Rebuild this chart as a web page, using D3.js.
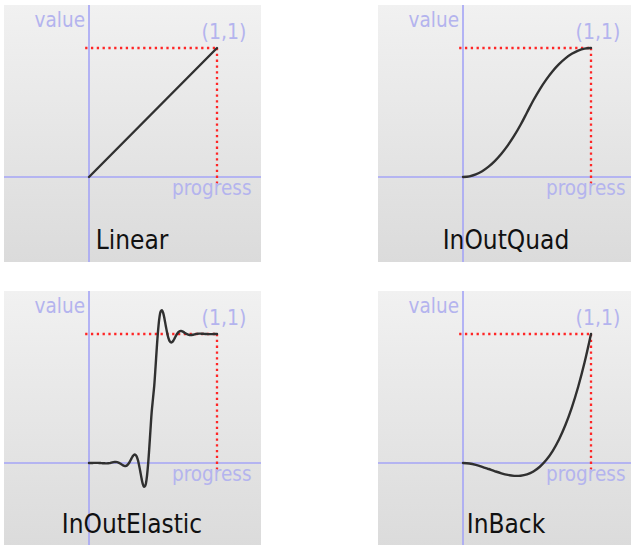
<!DOCTYPE html>
<html>
<head>
<meta charset="utf-8">
<script src="https://cdn.jsdelivr.net/npm/d3@7"></script>
<style>
  html, body { margin: 0; padding: 0; background: #ffffff; }
  svg { display: block; }
  text { font-family: "DejaVu Sans Condensed", "DejaVu Sans", sans-serif; font-stretch: condensed; }
</style>
</head>
<body>
<svg id="chart" width="631" height="545"></svg>
<script>
// ---- data ----
const curveNames = ["Linear", "InOutQuad", "InOutElastic", "InBack"];
const axisLabelX = "progress";
const axisLabelY = "value";
const endPointLabel = "(1,1)";

const linearProgress = [0, 1];
const linearValues   = [0, 1];

const quadProgress = [0, 0.05, 0.1, 0.15, 0.2, 0.25, 0.3, 0.35, 0.4, 0.45, 0.5,
                      0.55, 0.6, 0.65, 0.7, 0.75, 0.8, 0.85, 0.9, 0.95, 1];
const quadValues   = [0, 0.005, 0.02, 0.045, 0.08, 0.125, 0.18, 0.245, 0.32, 0.405, 0.5,
                      0.595, 0.68, 0.755, 0.82, 0.875, 0.92, 0.955, 0.98, 0.995, 1];

const elasticProgress = [0, 0.01, 0.02, 0.03, 0.04, 0.05, 0.06, 0.07, 0.08, 0.09,
  0.1, 0.11, 0.12, 0.13, 0.14, 0.15, 0.16, 0.17, 0.18, 0.19,
  0.2, 0.21, 0.22, 0.23, 0.24, 0.25, 0.26, 0.27, 0.28, 0.29,
  0.3, 0.31, 0.32, 0.33, 0.34, 0.35, 0.36, 0.37, 0.38, 0.39,
  0.4, 0.41, 0.42, 0.43, 0.44, 0.45, 0.46, 0.47, 0.48, 0.49,
  0.5, 0.51, 0.52, 0.53, 0.54, 0.55, 0.56, 0.57, 0.58, 0.59,
  0.6, 0.61, 0.62, 0.63, 0.64, 0.65, 0.66, 0.67, 0.68, 0.69,
  0.7, 0.71, 0.72, 0.73, 0.74, 0.75, 0.76, 0.77, 0.78, 0.79,
  0.8, 0.81, 0.82, 0.83, 0.84, 0.85, 0.86, 0.87, 0.88, 0.89,
  0.9, 0.91, 0.92, 0.93, 0.94, 0.95, 0.96, 0.97, 0.98, 0.99, 1];
const elasticValues = [0, -0.0001, 0.0002, 0.0005, 0.0008, 0.001, 0.001, 0.0009, 0.0005, -0.0002,
  -0.001, -0.0018, -0.0025, -0.0029, -0.0028, -0.002, -0.0005, 0.0016, 0.004, 0.0062,
  0.0078, 0.0082, 0.0069, 0.0037, -0.0014, -0.0078, -0.0145, -0.0202, -0.0232, -0.022,
  -0.0156, -0.0038, 0.0127, 0.0317, 0.0497, 0.0625, 0.0656, 0.0552, 0.0293, -0.0114,
  -0.0625, -0.1162, -0.1613, -0.1853, -0.1761, -0.125, -0.03, 0.1019, 0.2536, 0.3976,
  0.5, 0.6024, 0.7464, 0.8981, 1.03, 1.125, 1.1761, 1.1853, 1.1613, 1.1162,
  1.0625, 1.0114, 0.9707, 0.9448, 0.9344, 0.9375, 0.9503, 0.9683, 0.9873, 1.0038,
  1.0156, 1.022, 1.0232, 1.0202, 1.0145, 1.0078, 1.0014, 0.9963, 0.9931, 0.9918,
  0.9922, 0.9938, 0.996, 0.9984, 1.0005, 1.002, 1.0028, 1.0029, 1.0025, 1.0018,
  1.001, 1.0002, 0.9995, 0.9991, 0.999, 0.999, 0.9992, 0.9995, 0.9998, 1.0001, 1];

const backProgress = [0, 0.05, 0.1, 0.15, 0.2, 0.25, 0.3, 0.35, 0.4, 0.45, 0.5,
                      0.55, 0.6, 0.65, 0.7, 0.75, 0.8, 0.85, 0.9, 0.95, 1];
const backValues   = [0, -0.0039, -0.0143, -0.0292, -0.0465, -0.0641, -0.0802, -0.0926, -0.0994, -0.0984, -0.0877,
                      -0.0653, -0.029, 0.023, 0.0929, 0.1826, 0.2942, 0.4297, 0.5912, 0.7806, 1];

const seriesProgress = [linearProgress, quadProgress, elasticProgress, backProgress];
const seriesValues   = [linearValues, quadValues, elasticValues, backValues];

// ---- layout ----
const svg = d3.select("#chart");
const panelW = 257, panelH = 257;
const colX = [4, 378], rowY = [5, 291];

const defs = svg.append("defs");
const grad = defs.append("linearGradient")
  .attr("id", "panelBg").attr("x1", 0).attr("y1", 0).attr("x2", 0).attr("y2", 1);
grad.append("stop").attr("offset", "0%").attr("stop-color", "#f1f1f1");
grad.append("stop").attr("offset", "100%").attr("stop-color", "#dbdbdb");

const x = d3.scaleLinear().domain([0, 1]).range([85, 213]);
const y = d3.scaleLinear().domain([0, 1]).range([172, 43]);

const axisColor = "#a4a4f6";
const labelColor = "#b4b4ee";

curveNames.forEach((name, i) => {
  const col = i % 2, row = Math.floor(i / 2);
  const g = svg.append("g").attr("transform", `translate(${colX[col]},${rowY[row]})`);

  g.append("rect").attr("width", panelW).attr("height", panelH).attr("fill", "url(#panelBg)");

  // axes through origin
  g.append("line").attr("x1", 0).attr("x2", panelW).attr("y1", y(0)).attr("y2", y(0))
    .attr("stroke", axisColor).attr("stroke-width", 1.6);
  g.append("line").attr("x1", x(0)).attr("x2", x(0)).attr("y1", 0).attr("y2", panelH)
    .attr("stroke", axisColor).attr("stroke-width", 1.6);

  // dotted guides to (1,1)
  g.append("line").attr("x1", x(-0.03)).attr("x2", x(1)).attr("y1", y(1)).attr("y2", y(1))
    .attr("stroke", "#ff2626").attr("stroke-width", 2.3).attr("stroke-dasharray", "2.3,3.5");
  g.append("line").attr("x1", x(1)).attr("x2", x(1)).attr("y1", y(1)).attr("y2", y(-0.05))
    .attr("stroke", "#ff2626").attr("stroke-width", 2.3).attr("stroke-dasharray", "2.3,3.5");

  // axis labels
  g.append("text").attr("x", x(0) - 4).attr("y", 22).attr("text-anchor", "end")
    .attr("font-size", 20.5).attr("fill", labelColor).text(axisLabelY);
  g.append("text").attr("x", x(1) + 7).attr("y", 34).attr("text-anchor", "middle")
    .attr("font-size", 21).attr("fill", labelColor).text(endPointLabel);
  g.append("text").attr("x", 168).attr("y", y(0) + 18).attr("text-anchor", "start")
    .attr("font-size", 20.5).attr("fill", labelColor).text(axisLabelX);

  // curve
  const pts = seriesProgress[i].map((p, k) => [p, seriesValues[i][k]]);
  const line = d3.line().x(d => x(d[0])).y(d => y(d[1])).curve(d3.curveCatmullRom.alpha(0.5));
  g.append("path").attr("d", line(pts)).attr("fill", "none")
    .attr("stroke", "#303030").attr("stroke-width", 2.4).attr("stroke-linejoin", "round")
    .attr("stroke-linecap", "round");

  // title
  g.append("text").attr("x", 128).attr("y", row === 0 ? 244 : 242).attr("text-anchor", "middle")
    .attr("font-size", 26).attr("fill", "#111111").text(name);
});
</script>
</body>
</html>
